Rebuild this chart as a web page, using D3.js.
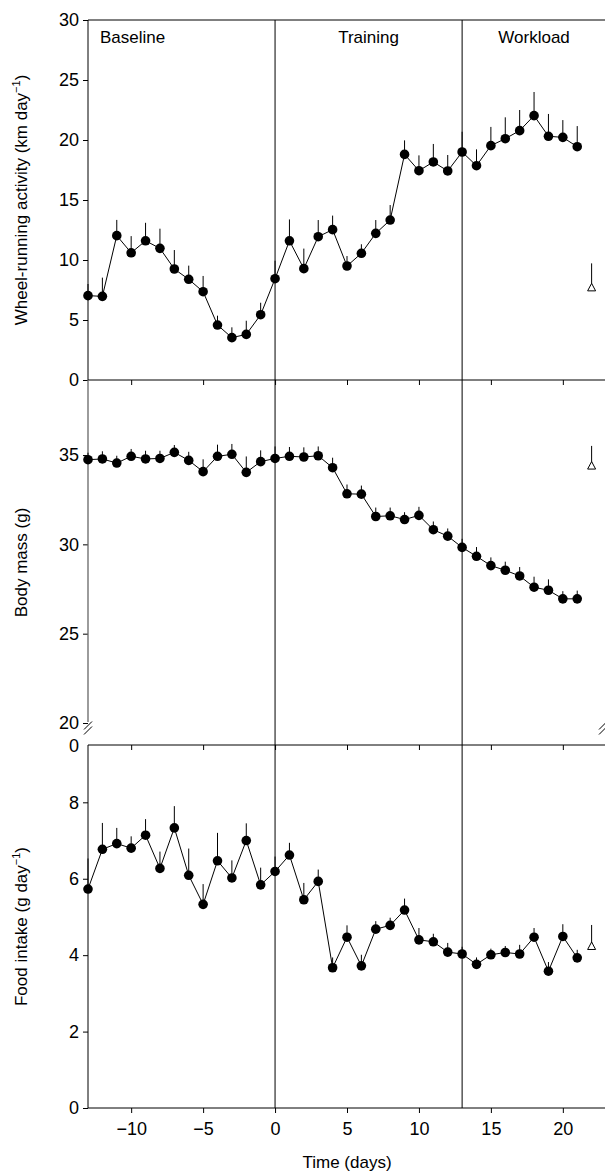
<!DOCTYPE html>
<html><head><meta charset="utf-8">
<script src="https://cdn.jsdelivr.net/npm/d3@7"></script>
<style>body{margin:0;background:#fff}svg{font-family:"Liberation Sans",Arial,sans-serif}</style>
</head><body><svg id="c" width="605" height="1176"></svg>
<script>
const days = d3.range(-13, 22);
const wheelMean = [7.03,6.97,12.03,10.6,11.6,10.97,9.25,8.39,7.36,4.58,3.53,3.8,5.44,8.44,11.6,9.28,11.94,12.53,9.5,10.56,12.22,13.33,18.8,17.44,18.17,17.42,19.0,17.86,19.53,20.11,20.78,22.03,20.31,20.22,19.44];
const wheelSE = [0.97,1.56,1.31,1.39,1.5,1.64,1.58,1.14,1.31,0.78,0.86,1.14,1.0,1.5,1.78,1.67,1.39,1.17,0.83,0.75,1.11,1.25,1.17,1.28,1.5,1.33,1.69,1.36,1.56,1.78,1.72,1.97,1.86,1.44,1.72];
const massMean = [34.74,34.78,34.55,34.93,34.78,34.81,35.15,34.7,34.07,34.93,35.04,34.03,34.63,34.81,34.93,34.89,34.96,34.29,32.83,32.81,31.56,31.6,31.39,31.62,30.82,30.46,29.83,29.33,28.81,28.55,28.23,27.6,27.43,26.95,26.95];
const massSE = [0.39,0.43,0.41,0.41,0.46,0.43,0.41,0.48,0.69,0.65,0.58,0.89,0.63,0.67,0.52,0.54,0.52,0.56,0.52,0.48,0.5,0.46,0.41,0.48,0.46,0.43,0.48,0.52,0.46,0.48,0.5,0.59,0.61,0.43,0.46];
const foodMean = [5.73,6.77,6.92,6.8,7.14,6.27,7.33,6.09,5.33,6.47,6.02,7.0,5.84,6.19,6.62,5.45,5.93,3.67,4.47,3.72,4.68,4.78,5.18,4.4,4.35,4.08,4.03,3.76,4.01,4.07,4.03,4.47,3.58,4.49,3.93];
const foodSE = [0.8,0.69,0.41,0.31,0.42,0.44,0.57,0.7,0.53,0.73,0.46,0.45,0.45,0.39,0.32,0.44,0.31,0.27,0.31,0.29,0.21,0.2,0.3,0.31,0.21,0.24,0.19,0.18,0.16,0.17,0.24,0.24,0.24,0.32,0.21];
// sedentary controls (open triangle at day 22)
const ctrlDay = 22;
const ctrlMean = [7.72, 34.41, 4.24];
const ctrlSE = [2.0, 1.1, 0.55];
const phases = ["Baseline", "Training", "Workload"];
const phaseBreaks = [0, 13];
const xTicks = [-10, -5, 0, 5, 10, 15, 20];

const svg = d3.select("#c");
const x = d3.scaleLinear().domain([-13, 23]).range([88, 606]);

const panels = [
  {mean: wheelMean, se: wheelSE, y: d3.scaleLinear().domain([0, 30]).range([380, 20]), ticks: [0,5,10,15,20,25,30], label: "Wheel-running activity (km day", sup: true, bottom: 380},
  {mean: massMean, se: massSE, y: d3.scaleLinear().domain([20, 39.2]).range([723, 380]), ticks: [20,25,30,35], label: "Body mass (g)", sup: false, bottom: 745},
  {mean: foodMean, se: foodSE, y: d3.scaleLinear().domain([0, 9.5]).range([1108, 745]), ticks: [0,2,4,6,8], label: "Food intake (g day", sup: true, bottom: 1108}
];

// frame
svg.append("line").attr("x1", x(-13)).attr("x2", 605).attr("y1", 20).attr("y2", 20).attr("stroke", "#000");
phaseBreaks.forEach(d => svg.append("line").attr("x1", x(d)).attr("x2", x(d)).attr("y1", 20).attr("y2", 1108).attr("stroke", "#000").attr("stroke-width", 1));

panels.forEach((p, i) => {
  const g = svg.append("g");
  const ax = g.append("g").attr("transform", `translate(${x(-13)},0)`)
    .call(d3.axisLeft(p.y).tickValues(p.ticks).tickSize(5).tickPadding(4));
  ax.select(".domain").remove();
  ax.selectAll("text").attr("font-size", 18).attr("fill", "#000");
  // y axis line
  const yTop = p.y.range()[1];
  const yBot = i === 1 ? 722 : p.bottom;
  g.append("line").attr("x1", x(-13)).attr("x2", x(-13)).attr("y1", yTop).attr("y2", yBot)
    .attr("stroke", i === 1 ? "#666" : "#000").attr("stroke-width", i === 1 ? 1.3 : 1);
  // x axis at panel bottom
  const xa = g.append("g").attr("transform", `translate(0,${p.bottom})`)
    .call(d3.axisBottom(x).tickValues(xTicks).tickSize(5).tickFormat(i === 2 ? (d => d < 0 ? "\u2212" + (-d) : d) : ""));
  xa.select(".domain").attr("d", `M${x(-13)},0H605`);
  xa.selectAll("text").attr("font-size", 18).attr("fill", "#000").attr("dy", "1.05em");
  // label
  const lab = g.append("text").attr("transform", `translate(27,${(yTop + p.bottom) / 2}) rotate(-90)`)
    .attr("text-anchor", "middle").attr("font-size", 17).text(p.label);
  if (p.sup) { lab.append("tspan").attr("font-size", 11).attr("dy", -7).text("\u22121"); lab.append("tspan").attr("dy", 7).text(")"); }
  // line
  g.append("path").datum(p.mean).attr("fill", "none").attr("stroke", "#000").attr("stroke-width", 1)
    .attr("d", d3.line().x((d, j) => x(days[j])).y(d => p.y(d)));
  g.selectAll(".err").data(p.mean).join("line")
    .attr("x1", (d, j) => x(days[j])).attr("x2", (d, j) => x(days[j]))
    .attr("y1", d => p.y(d)).attr("y2", (d, j) => p.y(d + p.se[j])).attr("stroke", "#000");
  g.selectAll(".dot").data(p.mean).join("circle")
    .attr("cx", (d, j) => x(days[j])).attr("cy", d => p.y(d)).attr("r", 4.8).attr("fill", "#000");
  // control
  const cy = p.y(ctrlMean[i]);
  g.append("line").attr("x1", x(ctrlDay)).attr("x2", x(ctrlDay)).attr("y1", cy).attr("y2", p.y(ctrlMean[i] + ctrlSE[i])).attr("stroke", "#000");
  g.append("path").attr("d", `M${x(ctrlDay)},${cy - 4}L${x(ctrlDay) + 4},${cy + 3.5}L${x(ctrlDay) - 4},${cy + 3.5}Z`)
    .attr("fill", "#fff").attr("stroke", "#000");
});

// axis break on body mass panel
svg.append("text").attr("x", x(-13) - 9).attr("y", 752).attr("text-anchor", "end").attr("font-size", 18).text("0");
[[x(-13), 728], [603, 728]].forEach(([bx, by]) => {
  [-2.5, 2.5].forEach(o => svg.append("line").attr("x1", bx - 4).attr("y1", by + o + 4).attr("x2", bx + 4).attr("y2", by + o - 4).attr("stroke", "#000"));
});

// phase labels
[[x(-13) + 12, "start"], [x(6.5), "middle"], [x(18), "middle"]].forEach(([px, anc], k) =>
  svg.append("text").attr("x", px).attr("y", 43).attr("text-anchor", anc).attr("font-size", 17).text(phases[k]));

svg.append("text").attr("x", x(5)).attr("y", 1168).attr("text-anchor", "middle").attr("font-size", 17).text("Time (days)");
</script></body></html>
